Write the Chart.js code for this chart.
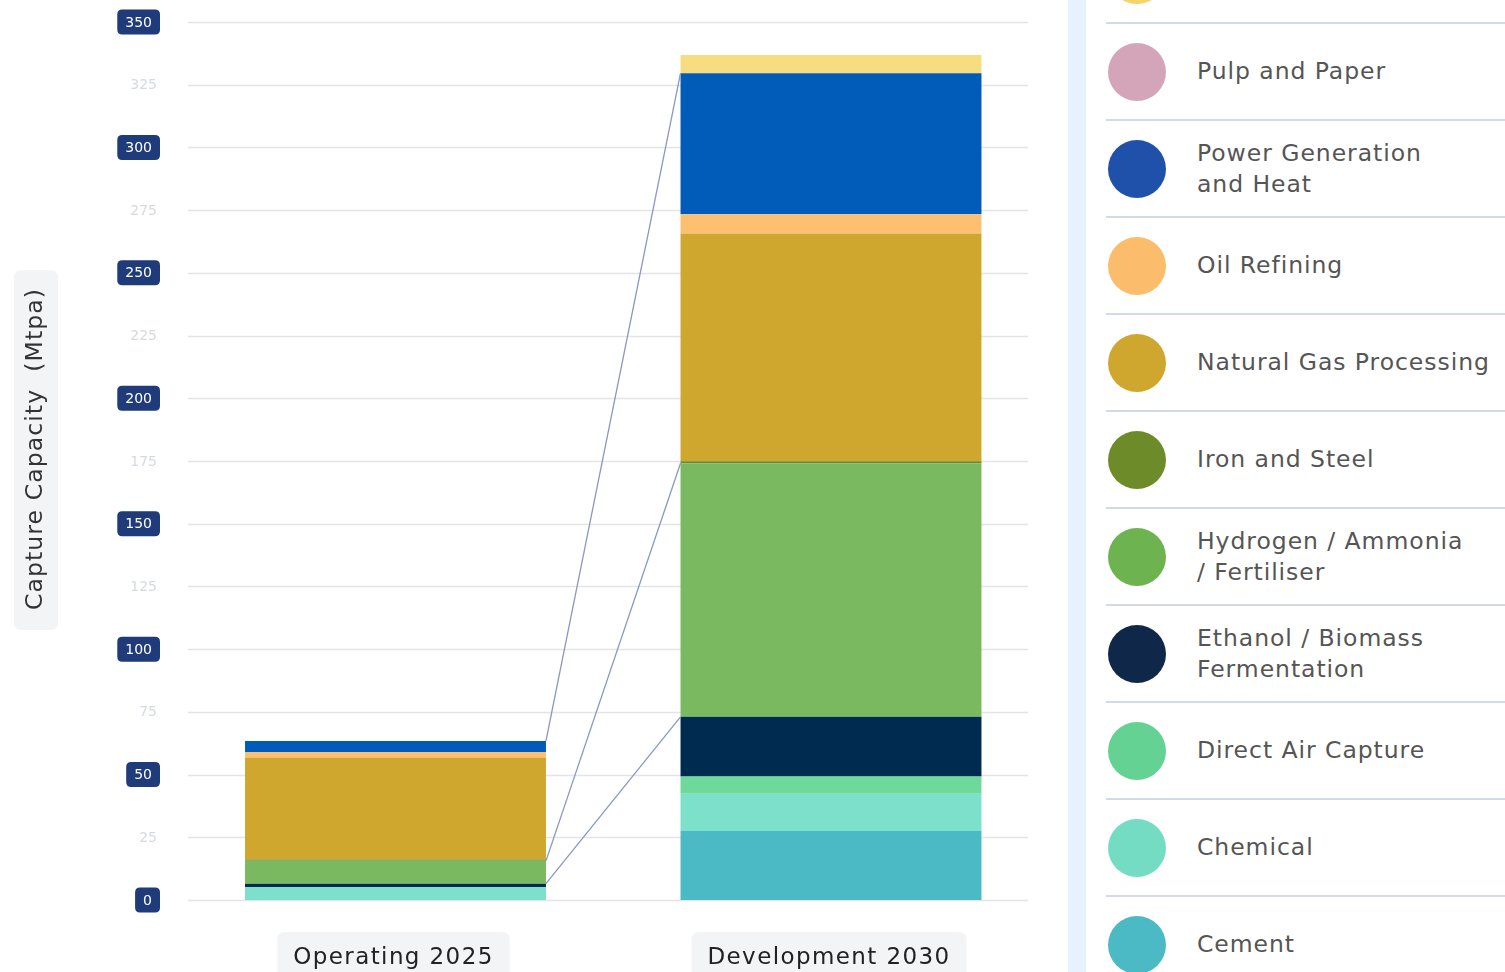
<!DOCTYPE html>
<html><head><meta charset="utf-8">
<script src="https://cdn.jsdelivr.net/npm/chart.js@4.4.1/dist/chart.umd.min.js"></script>
<style>
html,body{margin:0;padding:0;background:#fff;overflow:hidden;}
body{width:1505px;height:972px;position:relative;font-family:"DejaVu Sans",sans-serif;}
#wrap{position:absolute;left:0;top:0;width:1060px;height:972px;}
#strip{position:absolute;left:1068px;top:0;width:18px;height:972px;background:#e6f3fd;}
#legend{position:absolute;left:1106px;top:-73px;width:399px;}
.row{height:95px;border-bottom:2px solid #d3d9e6;display:flex;align-items:center;}
.dot{width:58px;height:58px;border-radius:50%;margin-left:2px;flex:none;}
.lbl{margin-left:31px;font-size:23.5px;color:#555;line-height:31px;white-space:pre-line;letter-spacing:0.95px;}
</style></head>
<body>
<div id="wrap"><canvas id="c"></canvas></div>
<div id="strip"></div>
<div id="legend"></div>
<script>
const categories = ["Operating 2025", "Development 2030"];
const sectors = ["Cement", "Chemical", "Direct Air Capture", "Ethanol / Biomass Fermentation",
  "Hydrogen / Ammonia / Fertiliser", "Iron and Steel", "Natural Gas Processing", "Oil Refining",
  "Power Generation and Heat", "Pulp and Paper", "Other"];
const legendLabels = ["Cement", "Chemical", "Direct Air Capture", "Ethanol / Biomass\nFermentation",
  "Hydrogen / Ammonia\n/ Fertiliser", "Iron and Steel", "Natural Gas Processing", "Oil Refining",
  "Power Generation\nand Heat", "Pulp and Paper", "Other"];
const operating2025 = [0, 5.1, 0, 1.4, 9.1, 0.5, 40.7, 2.2, 4.4, 0, 0];
const development2030 = [27.5, 14.9, 6.8, 23.8, 101.1, 0.8, 90.8, 7.7, 56.2, 0, 7.2];
const barColors = ["#4cbac4", "#7de0cb", "#6dd99a", "#002b50", "#7ab960", "#6e8b2a", "#cfa72e", "#fcc070", "#005cb8", "#d4a5b9", "#f7dd80"];
const legendColors = ["#4bbac4", "#74dcc3", "#64d292", "#0f2748", "#6db34f", "#6e8b2a", "#cfa72e", "#fbbd6b", "#1f51ab", "#d4a5b9", "#f7d36b"];
const connectSeries = ["Ethanol / Biomass Fermentation", "Hydrogen / Ammonia / Fertiliser", "Power Generation and Heat"];
const yTitle = "Capture Capacity  (Mtpa)";
const yMin = 0, yMax = 350, yStep = 25;

// legend
const lg = document.getElementById('legend');
for (let i = sectors.length - 1; i >= 0; i--) {
  const r = document.createElement('div'); r.className = 'row';
  const d = document.createElement('div'); d.className = 'dot'; d.style.background = legendColors[i];
  const t = document.createElement('div'); t.className = 'lbl'; t.textContent = legendLabels[i];
  r.appendChild(d); r.appendChild(t); lg.appendChild(r);
}

function rr(ctx, x, y, w, h, r) {
  ctx.beginPath();
  ctx.moveTo(x + r, y); ctx.lineTo(x + w - r, y); ctx.quadraticCurveTo(x + w, y, x + w, y + r);
  ctx.lineTo(x + w, y + h - r); ctx.quadraticCurveTo(x + w, y + h, x + w - r, y + h);
  ctx.lineTo(x + r, y + h); ctx.quadraticCurveTo(x, y + h, x, y + h - r);
  ctx.lineTo(x, y + r); ctx.quadraticCurveTo(x, y, x + r, y); ctx.closePath();
}

const gridPlugin = {
  id: 'gridPlugin',
  beforeDatasetsDraw(chart) {
    const ctx = chart.ctx, y = chart.scales.y;
    ctx.save();
    ctx.strokeStyle = '#e3e4e6'; ctx.lineWidth = 1.5;
    y.ticks.forEach(t => {
      const py = Math.round(y.getPixelForValue(t.value)) + 0.5;
      ctx.beginPath(); ctx.moveTo(188, py); ctx.lineTo(1028, py); ctx.stroke();
    });
    ctx.restore();
  },
  afterDraw(chart) {
    const ctx = chart.ctx, y = chart.scales.y, x = chart.scales.x;
    ctx.save();
    // y tick labels
    y.ticks.forEach(t => {
      const py = y.getPixelForValue(t.value);
      const txt = String(t.value);
      ctx.letterSpacing = '0px';
      if (t.value % 50 === 0) {
        ctx.font = '14px "DejaVu Sans", sans-serif';
        const w = ctx.measureText(txt).width + 16;
        ctx.fillStyle = '#1f3b7a';
        rr(ctx, 160 - w, py - 12.5, w, 25, 5); ctx.fill();
        ctx.fillStyle = '#ffffff'; ctx.textAlign = 'center'; ctx.textBaseline = 'middle';
        ctx.fillText(txt, 160 - w / 2, py + 1);
      } else {
        ctx.font = '14px "DejaVu Sans", sans-serif';
        ctx.fillStyle = '#d5d9e3'; ctx.textAlign = 'right'; ctx.textBaseline = 'middle';
        ctx.fillText(txt, 157, py + 1);
      }
    });
    // y title
    ctx.fillStyle = '#f3f4f6';
    rr(ctx, 14, 270, 44, 360, 8); ctx.fill();
    ctx.translate(36, 449); ctx.rotate(-Math.PI / 2);
    ctx.font = '23.5px "DejaVu Sans", sans-serif'; ctx.fillStyle = '#333';
    ctx.letterSpacing = '1.1px';
    ctx.textAlign = 'center'; ctx.textBaseline = 'middle';
    ctx.fillText(yTitle, 0, 0);
    ctx.setTransform(1, 0, 0, 1, 0, 0);
    // x labels
    ctx.font = '23px "DejaVu Sans", sans-serif';
    ctx.letterSpacing = '1.4px';
    categories.forEach((c, i) => {
      const px = x.getPixelForValue(i);
      const w = ctx.measureText(c).width + 32;
      ctx.fillStyle = '#f3f4f6';
      rr(ctx, px - w / 2 - 2, 932, w, 60, 8); ctx.fill();
      ctx.fillStyle = '#222'; ctx.textAlign = 'center'; ctx.textBaseline = 'middle';
      ctx.fillText(c, px - 2, 958);
    });
    ctx.restore();
  }
};

const connectorPlugin = {
  id: 'connectorPlugin',
  afterDatasetsDraw(chart) {
    const ctx = chart.ctx;
    ctx.save();
    ctx.strokeStyle = '#8898c2'; ctx.lineWidth = 1.3;
    connectSeries.forEach(name => {
      const di = sectors.indexOf(name);
      const meta = chart.getDatasetMeta(di);
      const a = meta.data[0], b = meta.data[1];
      ctx.beginPath();
      ctx.moveTo(a.x + a.width / 2, a.y);
      ctx.lineTo(b.x - b.width / 2, b.y);
      ctx.stroke();
    });
    ctx.restore();
  }
};

const datasets = sectors.map((s, i) => ({
  label: s,
  data: [operating2025[i], development2030[i]],
  backgroundColor: barColors[i],
  borderWidth: 0,
  barPercentage: 0.691,
  categoryPercentage: 1.0
}));

new Chart(document.getElementById('c'), {
  type: 'bar',
  data: { labels: categories, datasets },
  plugins: [gridPlugin, connectorPlugin],
  options: {
    responsive: true, maintainAspectRatio: false, animation: false,
    layout: { padding: { left: 0, right: 11.25, top: 22, bottom: 72 } },
    plugins: { legend: { display: false }, tooltip: { enabled: false } },
    scales: {
      x: { stacked: true, display: false, offset: true },
      y: {
        stacked: true, min: yMin, max: yMax,
        ticks: { stepSize: yStep, display: false },
        grid: { display: false }, border: { display: false },
        afterFit(s) { s.width = 177.75; }
      }
    }
  }
});
</script>
</body></html>
